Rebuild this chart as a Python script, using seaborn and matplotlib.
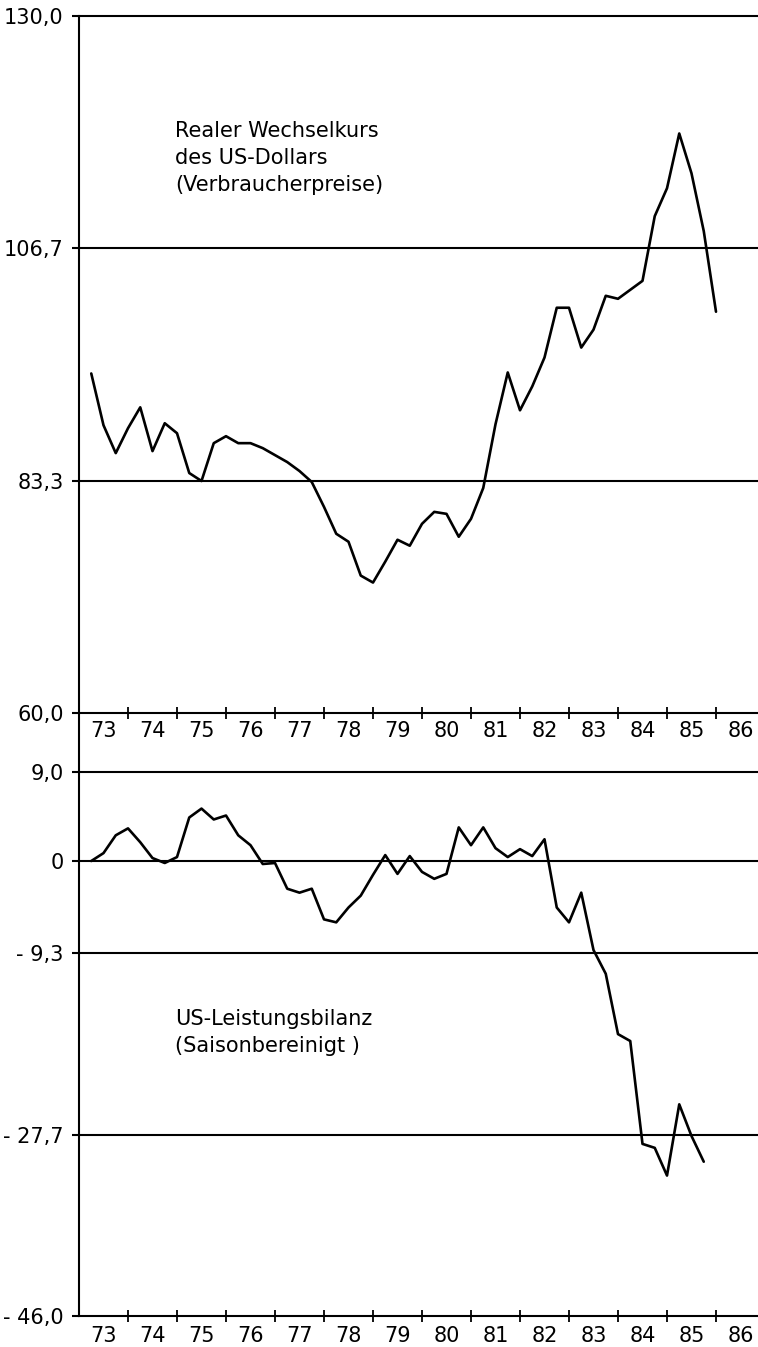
# imports
import numpy as np
import pandas as pd
import matplotlib
matplotlib.use('Agg')
import matplotlib.pyplot as plt
import seaborn as sns
from matplotlib.lines import Line2D

# ====================================================================================================
# data, quarterly 1973Q1 ...

wechselkurs = [94.1, 88.9, 86.1, 88.6, 90.7, 86.3, 89.1, 88.1, 84.1, 83.3,
               87.1, 87.8, 87.1, 87.1, 86.6, 85.9, 85.2, 84.3, 83.2, 80.7,
               78.0, 77.2, 73.8, 73.1, 75.2, 77.4, 76.8, 79.0, 80.2, 80.0,
               77.7, 79.5, 82.6, 89.0, 94.2, 90.4, 92.8, 95.7, 100.7, 100.7,
               96.7, 98.5, 101.9, 101.6, 102.5, 103.4, 109.9, 112.7, 118.2, 114.2,
               108.4, 100.3]

leistungsbilanz = [0.0, 0.8, 2.6, 3.3, 1.9, 0.3, -0.2, 0.4, 4.4, 5.3,
                   4.2, 4.6, 2.6, 1.6, -0.3, -0.2, -2.8, -3.2, -2.8, -5.9,
                   -6.2, -4.7, -3.5, -1.4, 0.6, -1.3, 0.5, -1.1, -1.8, -1.3,
                   3.4, 1.6, 3.4, 1.3, 0.4, 1.2, 0.5, 2.2, -4.7, -6.2,
                   -3.2, -9.0, -11.4, -17.5, -18.2, -28.6, -29.0, -31.8, -24.6, -27.8,
                   -30.4]

jahre = ['73', '74', '75', '76', '77', '78', '79', '80', '81', '82', '83', '84', '85', '86']

top_ticks = [60.0, 83.3, 106.7, 130.0]
top_labels = ['60,0', '83,3', '106,7', '130,0']
bot_ticks = [-46.0, -27.7, -9.3, 0.0, 9.0]
bot_labels = ['- 46,0', '- 27,7', '- 9,3', '0', '9,0']

# ====================================================================================================

W, H = 758, 1347
FS = 15

quarters = pd.period_range('1973Q1', periods=len(wechselkurs), freq='Q')
zeit = quarters.year + quarters.quarter / 4.0

df_top = pd.DataFrame({'zeit': zeit, 'wert': wechselkurs})
df_bot = pd.DataFrame({'zeit': zeit[:len(leistungsbilanz)], 'wert': leistungsbilanz})

sns.set_style('white')
plt.rcParams['font.family'] = ['DejaVu Sans']
plt.rcParams['text.color'] = 'black'
plt.rcParams['xtick.color'] = 'black'
plt.rcParams['ytick.color'] = 'black'
plt.rcParams['xtick.labelcolor'] = 'black'
plt.rcParams['ytick.labelcolor'] = 'black'

fig = plt.figure(figsize=(W / 100, H / 100), dpi=100)

def px_axes(top, bottom):
    left = 79
    return fig.add_axes([left / W, 1 - bottom / H, 1 - left / W, (bottom - top) / H])

ax1 = px_axes(16, 713)
ax2 = px_axes(772, 1316)


def style_axis(ax, df, ticks, labels, lab_pad):
    sns.lineplot(data=df, x='zeit', y='wert', ax=ax, color='black', lw=1.9)
    ax.set_xlim(1973, 1973 + (W - 79) / 49)
    ax.set_ylim(ticks[0], ticks[-1])
    ax.set_xlabel('')
    ax.set_ylabel('')

    for s in ['top', 'right']:
        ax.spines[s].set_visible(False)
    for s in ['left', 'bottom']:
        ax.spines[s].set_linewidth(1.5)
        ax.spines[s].set_color('black')

    for t in ticks[1:]:
        ax.axhline(t, color='black', lw=1.5, clip_on=False, zorder=1)

    ax.set_yticks(ticks)
    ax.set_yticklabels(labels)
    ax.tick_params(axis='y', direction='out', length=5, width=1.5, pad=6, labelsize=FS, left=True)

    ax.set_xticks(np.arange(1974, 1987))
    ax.set_xticklabels([])
    ax.set_xticks(np.arange(1973, 1987) + 0.5, minor=True)
    ax.set_xticklabels(jahre, minor=True)
    ax.tick_params(axis='x', which='major', direction='inout', length=8, width=1.3, bottom=True)
    ax.tick_params(axis='x', which='minor', length=0, pad=lab_pad, labelsize=FS, bottom=True)


style_axis(ax1, df_top, top_ticks, top_labels, 6)
style_axis(ax2, df_bot, bot_ticks, bot_labels, 7)

# vertical axis runs through the gap between both panels
fig.add_artist(Line2D([79 / W, 79 / W], [1 - 713 / H, 1 - 772 / H], color='black', lw=1.5))

fig.text(175 / W, 1 - 121 / H, 'Realer Wechselkurs\ndes US-Dollars\n(Verbraucherpreise)',
         fontsize=FS, va='top', ha='left', linespacing=1.45, color='black')
fig.text(175 / W, 1 - 1009 / H, 'US-Leistungsbilanz\n(Saisonbereinigt )',
         fontsize=FS, va='top', ha='left', linespacing=1.45, color='black')

plt.savefig('out.png', dpi=100)
